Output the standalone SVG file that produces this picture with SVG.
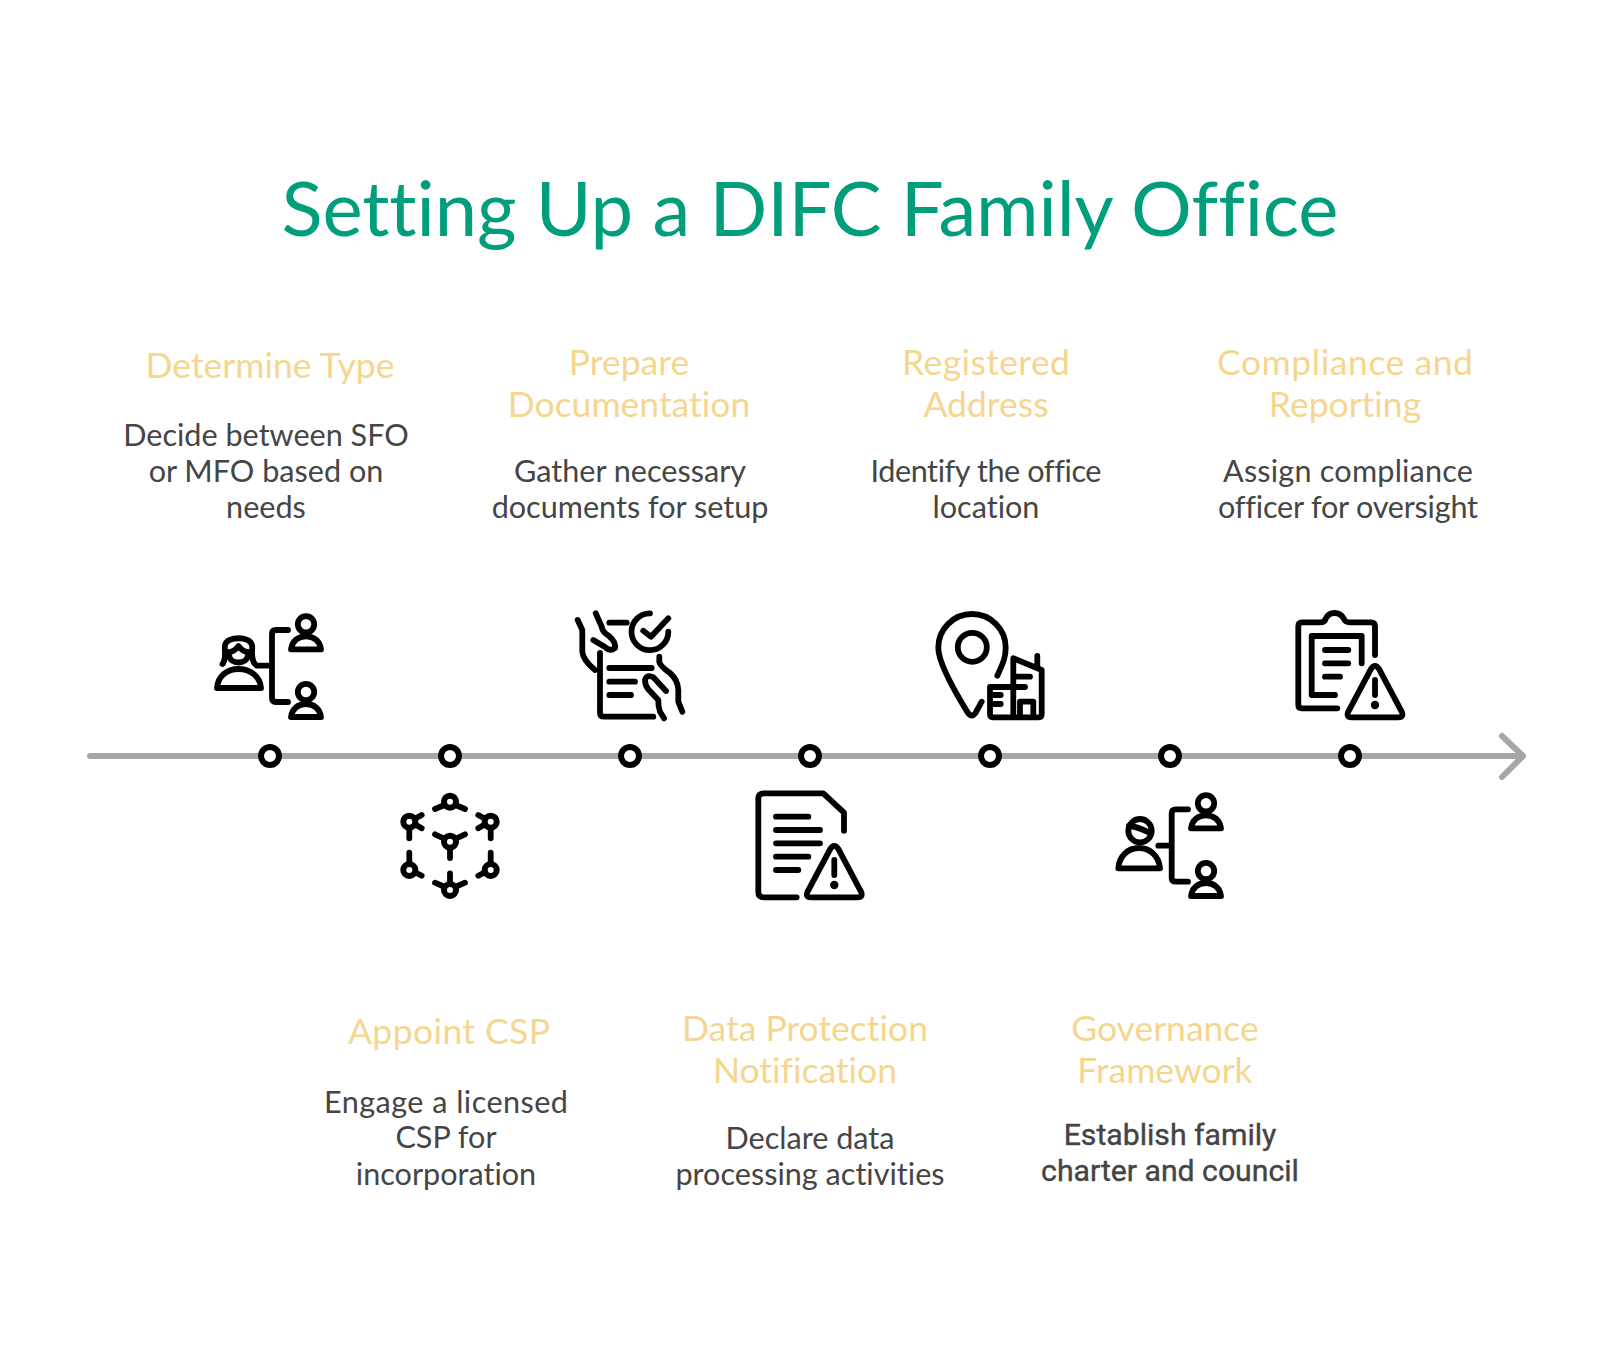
<svg xmlns="http://www.w3.org/2000/svg" width="1620" height="1368" viewBox="0 0 1620 1368">
<style>
text{text-anchor:middle;font-family:"Lato","Open Sans",sans-serif;font-variant-ligatures:none}
.t{font-size:76px;fill:#009e7b}
.h{font-size:35.500px;fill:#f5d68f}
.b{font-size:30.600px;fill:#454545}
.r{font-family:"Roboto",sans-serif;font-weight:400;fill:#444;font-size:30.200px;stroke:#444;stroke-width:.4}
.i,.i *{fill:none;stroke:#000;stroke-width:5.800;stroke-linecap:round;stroke-linejoin:round}
.i .d{fill:#000;stroke:none}
.i .w{fill:#fff;stroke-width:6}
.n{fill:#fff;stroke:#000;stroke-width:6}
.a{fill:none;stroke:#a6a6a6;stroke-width:6;stroke-linecap:round;stroke-linejoin:round}
</style>
<defs>
<g id="person"><circle cx="0" cy="0" r="8.200"/><path d="M-15 25C-14 17-8 12 0 12S14 17 15 25Z"/></g>
<path id="tri" d="M-4 2.500Q0-3.500 4 2.500L26 44Q30 51 23 51H-23Q-30 51-26 44Z"/>
</defs>
<rect width="1620" height="1368" fill="#fff"/>
<text class="t" x="810" y="236" textLength="1057">Setting Up a DIFC Family Office</text>
<g id="connectors">
<path class="a" d="M90 756H1522M1502 736L1523 756 1502 777"/>
</g>
<g id="timeline-dots">
<circle class="n" cx="270" cy="756" r="9"/><circle class="n" cx="450" cy="756" r="9"/><circle class="n" cx="630" cy="756" r="9"/><circle class="n" cx="810" cy="756" r="9"/><circle class="n" cx="990" cy="756" r="9"/><circle class="n" cx="1170" cy="756" r="9"/><circle class="n" cx="1350" cy="756" r="9"/>
</g>
<g id="step-determine-type">
<text class="h" x="270" y="378">Determine Type</text>
<text class="b" x="266" y="446">Decide between SFO</text><text class="b" x="266" y="482">or MFO based on</text><text class="b" x="266" y="518">needs</text>
<g class="i">
<use href="#person" x="306" y="624.300"/><use href="#person" x="306" y="692"/>
<path d="M288 630H276Q272 630 272 634V698Q272 702 276 702H288M257 665.700H272"/>
<path d="M222.500 664C227 658 224 650 225 645C227 636 250 636 252 645C253 650 250 658 255 664"/>
<path d="M229 652Q234 652 238.500 646Q243 652 248 652M229 655C230 665 247 665 248 655"/>
<path d="M217 688C218 676 227 669 238.500 669S260 676 261 688Z"/>
</g></g>
<g id="step-appoint-csp">
<text class="h" x="449" y="1044" textLength="202">Appoint CSP</text>
<text class="b" x="446" y="1113" textLength="244">Engage a licensed</text><text class="b" x="446" y="1148">CSP for</text><text class="b" x="446" y="1185">incorporation</text>
<g class="i">
<path d="M435 809L447 804M465 809L453 804M435 834.300L447 840M465 834.300L453 840M450 842V858M450 873.300V888M435 882.700L447 888M465 882.700L453 888M421.700 815L411 821M421.700 828.300L411 822M409.300 822V838.300M478.300 815L489 821M478.300 828.300L489 822M490.700 822V838.300M409.300 852.700V868M421.700 875.700L411 870M490.700 852.700V868M478.300 875.700L489 870"/>
<circle class="w" cx="450" cy="801.700" r="6"/><circle class="w" cx="450" cy="841.700" r="6"/><circle class="w" cx="450" cy="890" r="6"/><circle class="w" cx="409.300" cy="821.700" r="6"/><circle class="w" cx="490.700" cy="821.700" r="6"/><circle class="w" cx="409.300" cy="870" r="6"/><circle class="w" cx="490.700" cy="870" r="6"/>
</g></g>
<g id="step-prepare-documentation">
<text class="h" x="629" y="375">Prepare</text><text class="h" x="629" y="417">Documentation</text>
<text class="b" x="630" y="482">Gather necessary</text><text class="b" x="630" y="518">documents for setup</text>
<g class="i">
<path d="M600 653V712.700Q600 716.700 604 716.700H653.300M609.300 622.700H626.700M609.300 668H651.700M609.300 681.700H635M609.300 695H631"/>
<path d="M650 613.300A18.400 18.400 0 1 0 668.300 631.700M643.300 630.700L651 636.700 668.300 618.300"/>
<path d="M577.700 620L582.300 630V651.700Q583 660 595 670M595.700 613.300L601.700 626.700Q602 632 609 636Q616 642 615 648Q610 652 605 647L593.300 640"/>
<path d="M659.300 656.700V662Q660 666 670 673Q678 680 678.300 690V701.700L682.300 711.700M666 691L653.300 677.300Q647 674 645 680Q645 685 648 689L658.300 700Q658 706 660 711.700L664 718.300"/>
</g></g>
<g id="step-data-protection">
<text class="h" x="805" y="1041">Data Protection</text><text class="h" x="805" y="1083">Notification</text>
<text class="b" x="810" y="1149">Declare data</text><text class="b" x="810" y="1185">processing activities</text>
<g class="i">
<path d="M796.700 897.300H764Q758.300 897.300 758.300 892V798.500Q758.300 793.300 764 793.300H823.300L844 812.700V830.700"/>
<path d="M776 816.700H808.300M776 830H820M776 843.300H820M776 856.700H808.300M776 870H798.300"/>
<use href="#tri" x="834.300" y="846.300"/><path d="M834.300 860V875"/><circle class="d" cx="834.300" cy="885" r="4.200"/>
</g></g>
<g id="step-registered-address">
<text class="h" x="986" y="375" textLength="168">Registered</text><text class="h" x="986" y="417">Address</text>
<text class="b" x="986" y="482" textLength="231">Identify the office</text><text class="b" x="986" y="518">location</text>
<g class="i">
<circle cx="972.300" cy="647.300" r="14.500"/>
<path d="M997.300 675.700C1003 663 1005.700 658 1005.700 647.700A33.700 33.700 0 0 0 938.300 647.700C938.300 665 960 700 968 713Q971.700 718 975.500 713L981.700 701.700"/>
<path d="M990 687H1025M990 687V714Q990 717.300 993 717.300H1038.700Q1041.700 717.300 1041.700 714V670L1013.300 658.300V717M1037.300 656V668M1015 676.700H1030M990 695H1000.700M990 704H1000.700M1020 717V701.700H1033.300V717"/>
</g></g>
<g id="step-governance">
<text class="h" x="1165" y="1041">Governance</text><text class="h" x="1165" y="1083">Framework</text>
<text class="r" x="1170" y="1145">Establish family</text><text class="r" x="1170" y="1181">charter and council</text>
<g class="i">
<use href="#person" x="1206" y="803.300"/><use href="#person" x="1206" y="871"/>
<path d="M1188 809.300H1176Q1171.700 809.300 1171.700 813V878Q1171.700 881.700 1176 881.700H1188M1158.300 845.700H1171.700"/>
<circle cx="1140" cy="830.700" r="11.700"/><path d="M1129 826Q1136 826 1150 833"/>
<path d="M1118.300 868.300C1119 856 1128 848 1139 848S1159 856 1160 868.300Z"/>
</g></g>
<g id="step-compliance">
<text class="h" x="1345" y="375" textLength="256">Compliance and</text><text class="h" x="1345" y="417">Reporting</text>
<text class="b" x="1348" y="482" textLength="250">Assign compliance</text><text class="b" x="1348" y="518" textLength="260">officer for oversight</text>
<g class="i">
<path d="M1375 655V626Q1375 622.300 1371 622.300H1350Q1345 622.300 1344 619C1340 611 1329 611 1325.500 619Q1325 622.300 1320 622.300H1302Q1298.300 622.300 1298.300 626V704.700Q1298.300 708.300 1302 708.300H1337.300"/>
<path d="M1361.700 663.300V636H1311.700V695H1335M1325 650H1348.300M1325 663.300H1348.300M1325 676.700H1340"/>
<use href="#tri" x="1375" y="666.300"/><path d="M1375 680V695"/><circle class="d" cx="1375" cy="705" r="4.200"/>
</g></g>
</svg>
